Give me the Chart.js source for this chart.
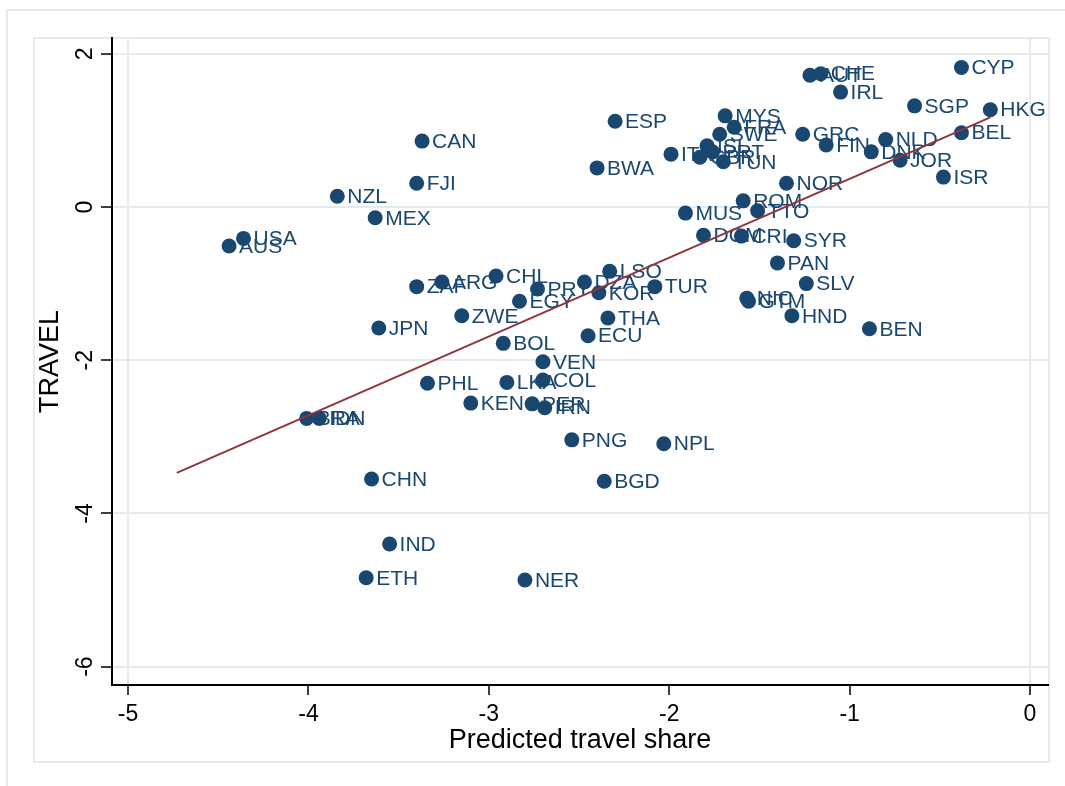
<!DOCTYPE html>
<html>
<head>
<meta charset="utf-8">
<script src="https://cdn.jsdelivr.net/npm/chart.js@4.4.1/dist/chart.umd.min.js"></script>
<style>
  html, body { margin: 0; padding: 0; background: #fff; }
  #wrap { width: 1065px; height: 786px; }
</style>
</head>
<body>
<div id="wrap"><canvas id="chart" width="1065" height="786"></canvas></div>
<script>
// country codes, predicted travel share (x) and TRAVEL (y)
const countries = ['CYP','HKG','SGP','BEL','ISR','JOR','DNK','NLD','FIN','GRC',
  'IRL','AUT','CHE','MYS','FRA','SWE','ISL','PRT','GBR','ITA',
  'TUN','ESP','BWA','NOR','ROM','TTO','MUS','DOM','CRI','SYR',
  'PAN','SLV','NIC','GTM','HND','BEN','TUR','LSO','DZA','KOR',
  'PRY','EGY','CHL','ARG','ZAF','ZWE','JPN','THA','ECU','BOL',
  'VEN','COL','LKA','PHL','KEN','PER','IRN','PNG','NPL','BGD',
  'CHN','IND','ETH','NER','BRA','IDN','USA','AUS','NZL','MEX',
  'FJI','CAN'];
const predShare = [-0.38,-0.22,-0.64,-0.38,-0.48,-0.72,-0.88,-0.80,-1.13,-1.26,
  -1.05,-1.22,-1.16,-1.69,-1.64,-1.72,-1.79,-1.76,-1.83,-1.99,
  -1.70,-2.30,-2.40,-1.35,-1.59,-1.51,-1.91,-1.81,-1.60,-1.31,
  -1.40,-1.24,-1.57,-1.56,-1.32,-0.89,-2.08,-2.33,-2.47,-2.39,
  -2.73,-2.83,-2.96,-3.26,-3.40,-3.15,-3.61,-2.34,-2.45,-2.92,
  -2.70,-2.70,-2.90,-3.34,-3.10,-2.76,-2.69,-2.54,-2.03,-2.36,
  -3.65,-3.55,-3.68,-2.80,-4.01,-3.94,-4.36,-4.44,-3.84,-3.63,
  -3.40,-3.37];
const travel = [1.82,1.27,1.32,0.97,0.39,0.61,0.72,0.88,0.81,0.95,
  1.50,1.72,1.74,1.19,1.04,0.95,0.80,0.72,0.65,0.69,
  0.59,1.12,0.51,0.31,0.08,-0.05,-0.08,-0.37,-0.38,-0.44,
  -0.73,-1.00,-1.19,-1.23,-1.42,-1.59,-1.04,-0.84,-0.98,-1.12,
  -1.07,-1.23,-0.90,-0.98,-1.04,-1.42,-1.58,-1.45,-1.68,-1.78,
  -2.02,-2.26,-2.29,-2.30,-2.56,-2.57,-2.62,-3.04,-3.09,-3.58,
  -3.55,-4.40,-4.84,-4.87,-2.76,-2.76,-0.41,-0.51,0.14,-0.14,
  0.31,0.86];

// fitted line end points
const fitX = [-4.73, -0.22];
const fitY = [-3.47, 1.17];

const xTicks = [-5, -4, -3, -2, -1, 0];
const yTicks = [-6, -4, -2, 0, 2];

const navy = '#1a476f';
const maroon = '#90353b';
const frame = '#e4ebef';
const fontFam = '"Liberation Sans", Arial, sans-serif';

// outer graph frames
const framePlugin = {
  id: 'frames',
  beforeDraw(chart) {
    const c = chart.ctx;
    c.save();
    c.strokeStyle = frame;
    c.lineWidth = 2;
    c.strokeRect(7, 10, 1070, 790);
    c.strokeRect(34, 38, 1015, 724);
    c.restore();
  }
};

// marker labels to the right of each point, drawn under the markers
const labelPlugin = {
  id: 'mlabels',
  beforeDatasetsDraw(chart) {
    const meta = chart.getDatasetMeta(1);
    const c = chart.ctx;
    c.save();
    c.font = '21px ' + fontFam;
    c.fillStyle = navy;
    c.textBaseline = 'middle';
    c.textAlign = 'left';
    meta.data.forEach((pt, i) => {
      c.fillText(countries[i], pt.x + 10, pt.y + 1);
    });
    c.restore();
  }
};

// vertical y tick labels (stata style)
const yLabelPlugin = {
  id: 'ylabels',
  afterDraw(chart) {
    const ys = chart.scales.y;
    const c = chart.ctx;
    c.save();
    c.font = '23px ' + fontFam;
    c.fillStyle = '#000';
    c.textAlign = 'center';
    c.textBaseline = 'middle';
    yTicks.forEach(v => {
      c.save();
      c.translate(86, ys.getPixelForValue(v));
      c.rotate(-Math.PI / 2);
      c.fillText(String(v), 0, 0);
      c.restore();
    });
    c.restore();
  }
};

const points = predShare.map((x, i) => ({ x: x, y: travel[i] }));
const fitPts = fitX.map((x, i) => ({ x: x, y: fitY[i] }));

new Chart(document.getElementById('chart'), {
  type: 'scatter',
  data: {
    datasets: [
      {
        type: 'line',
        data: fitPts,
        borderColor: maroon,
        borderWidth: 2,
        pointRadius: 0,
        fill: false
      },
      {
        data: points,
        backgroundColor: navy,
        borderColor: navy,
        borderWidth: 0,
        pointRadius: 7.5,
        pointHoverRadius: 7.5
      }
    ]
  },
  options: {
    responsive: false,
    animation: false,
    events: [],
    layout: { padding: { left: 0, top: 38, right: 17, bottom: 21 } },
    plugins: {
      legend: { display: false },
      tooltip: { enabled: false }
    },
    scales: {
      x: {
        type: 'linear',
        min: -5.089,
        max: 0.0998,
        afterBuildTicks: s => { s.ticks = xTicks.map(v => ({ value: v })); },
        afterFit: s => { s.height = 80; },
        border: { display: true, color: '#000', width: 2 },
        grid: {
          color: ctx => (ctx.tick && (ctx.tick.value === -5 || ctx.tick.value === 0)) ? frame : 'transparent',
          lineWidth: 2,
          tickColor: '#000',
          tickLength: 10,
          tickWidth: 1.5
        },
        ticks: {
          color: '#000',
          font: { family: fontFam, size: 23 },
          padding: 6,
          maxRotation: 0,
          callback: v => String(v)
        },
        title: {
          display: true,
          text: 'Predicted travel share',
          color: '#000',
          font: { family: fontFam, size: 27 },
          padding: { top: 0, bottom: 8 }
        }
      },
      y: {
        type: 'linear',
        min: -6.24,
        max: 2.206,
        afterBuildTicks: s => { s.ticks = yTicks.map(v => ({ value: v })); },
        afterFit: s => { s.width = 112; },
        border: { display: true, color: '#000', width: 2 },
        grid: {
          color: frame,
          lineWidth: 2,
          tickColor: '#000',
          tickLength: 11,
          tickWidth: 1.5
        },
        ticks: { display: false },
        title: {
          display: true,
          text: 'TRAVEL',
          color: '#000',
          font: { family: fontFam, size: 27 },
          padding: { top: 34, bottom: 0 }
        }
      }
    }
  },
  plugins: [framePlugin, labelPlugin, yLabelPlugin]
});
</script>
</body>
</html>
